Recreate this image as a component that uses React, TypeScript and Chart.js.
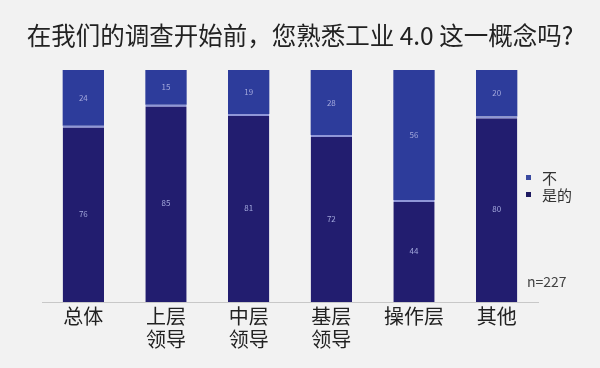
import React, { useEffect, useRef } from "react";
import { Chart, registerables } from "chart.js";

Chart.register(...registerables);

const categories: (string | string[])[] = ["总体", ["上层", "领导"], ["中层", "领导"], ["基层", "领导"], "操作层", "其他"];
const yesValues = [76, 85, 81, 72, 44, 80];
const noValues = [24, 15, 19, 28, 56, 20];
const seriesNames = ["是的", "不"];
const titleText = "在我们的调查开始前，您熟悉工业 4.0 这一概念吗?";
const noteText = "n=227";

const DARK = "#221d6f";
const LIGHT = "#2d3c9b";
const CJK = "'Noto Sans CJK SC', 'Noto Sans', sans-serif";

const overlayPlugin = {
  id: "overlay",
  afterDatasetsDraw(chart: any) {
    const ctx = chart.ctx;
    ctx.save();
    ctx.font = `8px ${CJK}`;
    ctx.fillStyle = "#a3a8dc";
    ctx.textAlign = "center";
    ctx.textBaseline = "middle";
    chart.data.datasets.forEach((ds: any, di: number) => {
      const meta = chart.getDatasetMeta(di);
      meta.data.forEach((bar: any, i: number) => {
        const p = bar.getProps(["x", "y", "base"], true);
        ctx.fillText(String(ds.data[i]), p.x, (p.y + p.base) / 2);
      });
    });
    // title
    ctx.font = `24.5px ${CJK}`;
    ctx.fillStyle = "#222";
    ctx.fillText(titleText, chart.width / 2, 36);
    // legend
    const area = chart.chartArea;
    const cy = (area.top + area.bottom) / 2;
    const items = [
      { text: seriesNames[1], color: "#3a4aa0", y: cy - 8 },
      { text: seriesNames[0], color: "#1e1a60", y: cy + 9 },
    ];
    ctx.font = `15px ${CJK}`;
    ctx.textAlign = "left";
    items.forEach((it) => {
      ctx.fillStyle = it.color;
      ctx.fillRect(area.right - 12, it.y - 3, 5, 5);
      ctx.fillStyle = "#333";
      ctx.fillText(it.text, area.right + 4, it.y);
    });
    ctx.font = `14px ${CJK}`;
    ctx.fillStyle = "#444";
    ctx.fillText(noteText, area.right - 11, area.bottom - 20);
    ctx.restore();
  },
};

export default function App() {
  const ref = useRef<HTMLCanvasElement>(null);
  useEffect(() => {
    document.body.style.margin = "0";
    document.body.style.background = "#f2f2f2";
    const chart = new Chart(ref.current!, {
      type: "bar",
      data: {
        labels: categories as any,
        datasets: [
          {
            label: seriesNames[0],
            data: yesValues,
            backgroundColor: DARK,
            borderColor: "#8f96d8",
            borderWidth: { top: 2, left: 0, right: 0, bottom: 0 },
            borderSkipped: false,
            barPercentage: 0.5,
            categoryPercentage: 1,
          },
          {
            label: seriesNames[1],
            data: noValues,
            backgroundColor: LIGHT,
            borderWidth: 0,
            barPercentage: 0.5,
            categoryPercentage: 1,
          },
        ],
      },
      options: {
        animation: false,
        responsive: false,
        layout: { padding: { left: 42, right: 62, top: 70, bottom: 14 } },
        plugins: {
          legend: { display: false },
          tooltip: { enabled: false },
          title: { display: false },
        },
        scales: {
          x: {
            stacked: true,
            grid: { display: false, drawTicks: false },
            border: { color: "#c8c8c8", width: 1 },
            ticks: {
              color: "#222",
              font: { family: CJK, size: 20, lineHeight: 1.15 },
              padding: 3,
              maxRotation: 0,
              autoSkip: false,
            },
          },
          y: { stacked: true, display: false, min: 0, max: 100 },
        },
      },
      plugins: [overlayPlugin],
    });
    return () => chart.destroy();
  }, []);
  return (
    <div style={{ position: "fixed", left: 0, top: 0, width: 600, height: 368, background: "#f2f2f2" }}>
      <canvas ref={ref} width={600} height={368} style={{ width: 600, height: 368 }} />
    </div>
  );
}
